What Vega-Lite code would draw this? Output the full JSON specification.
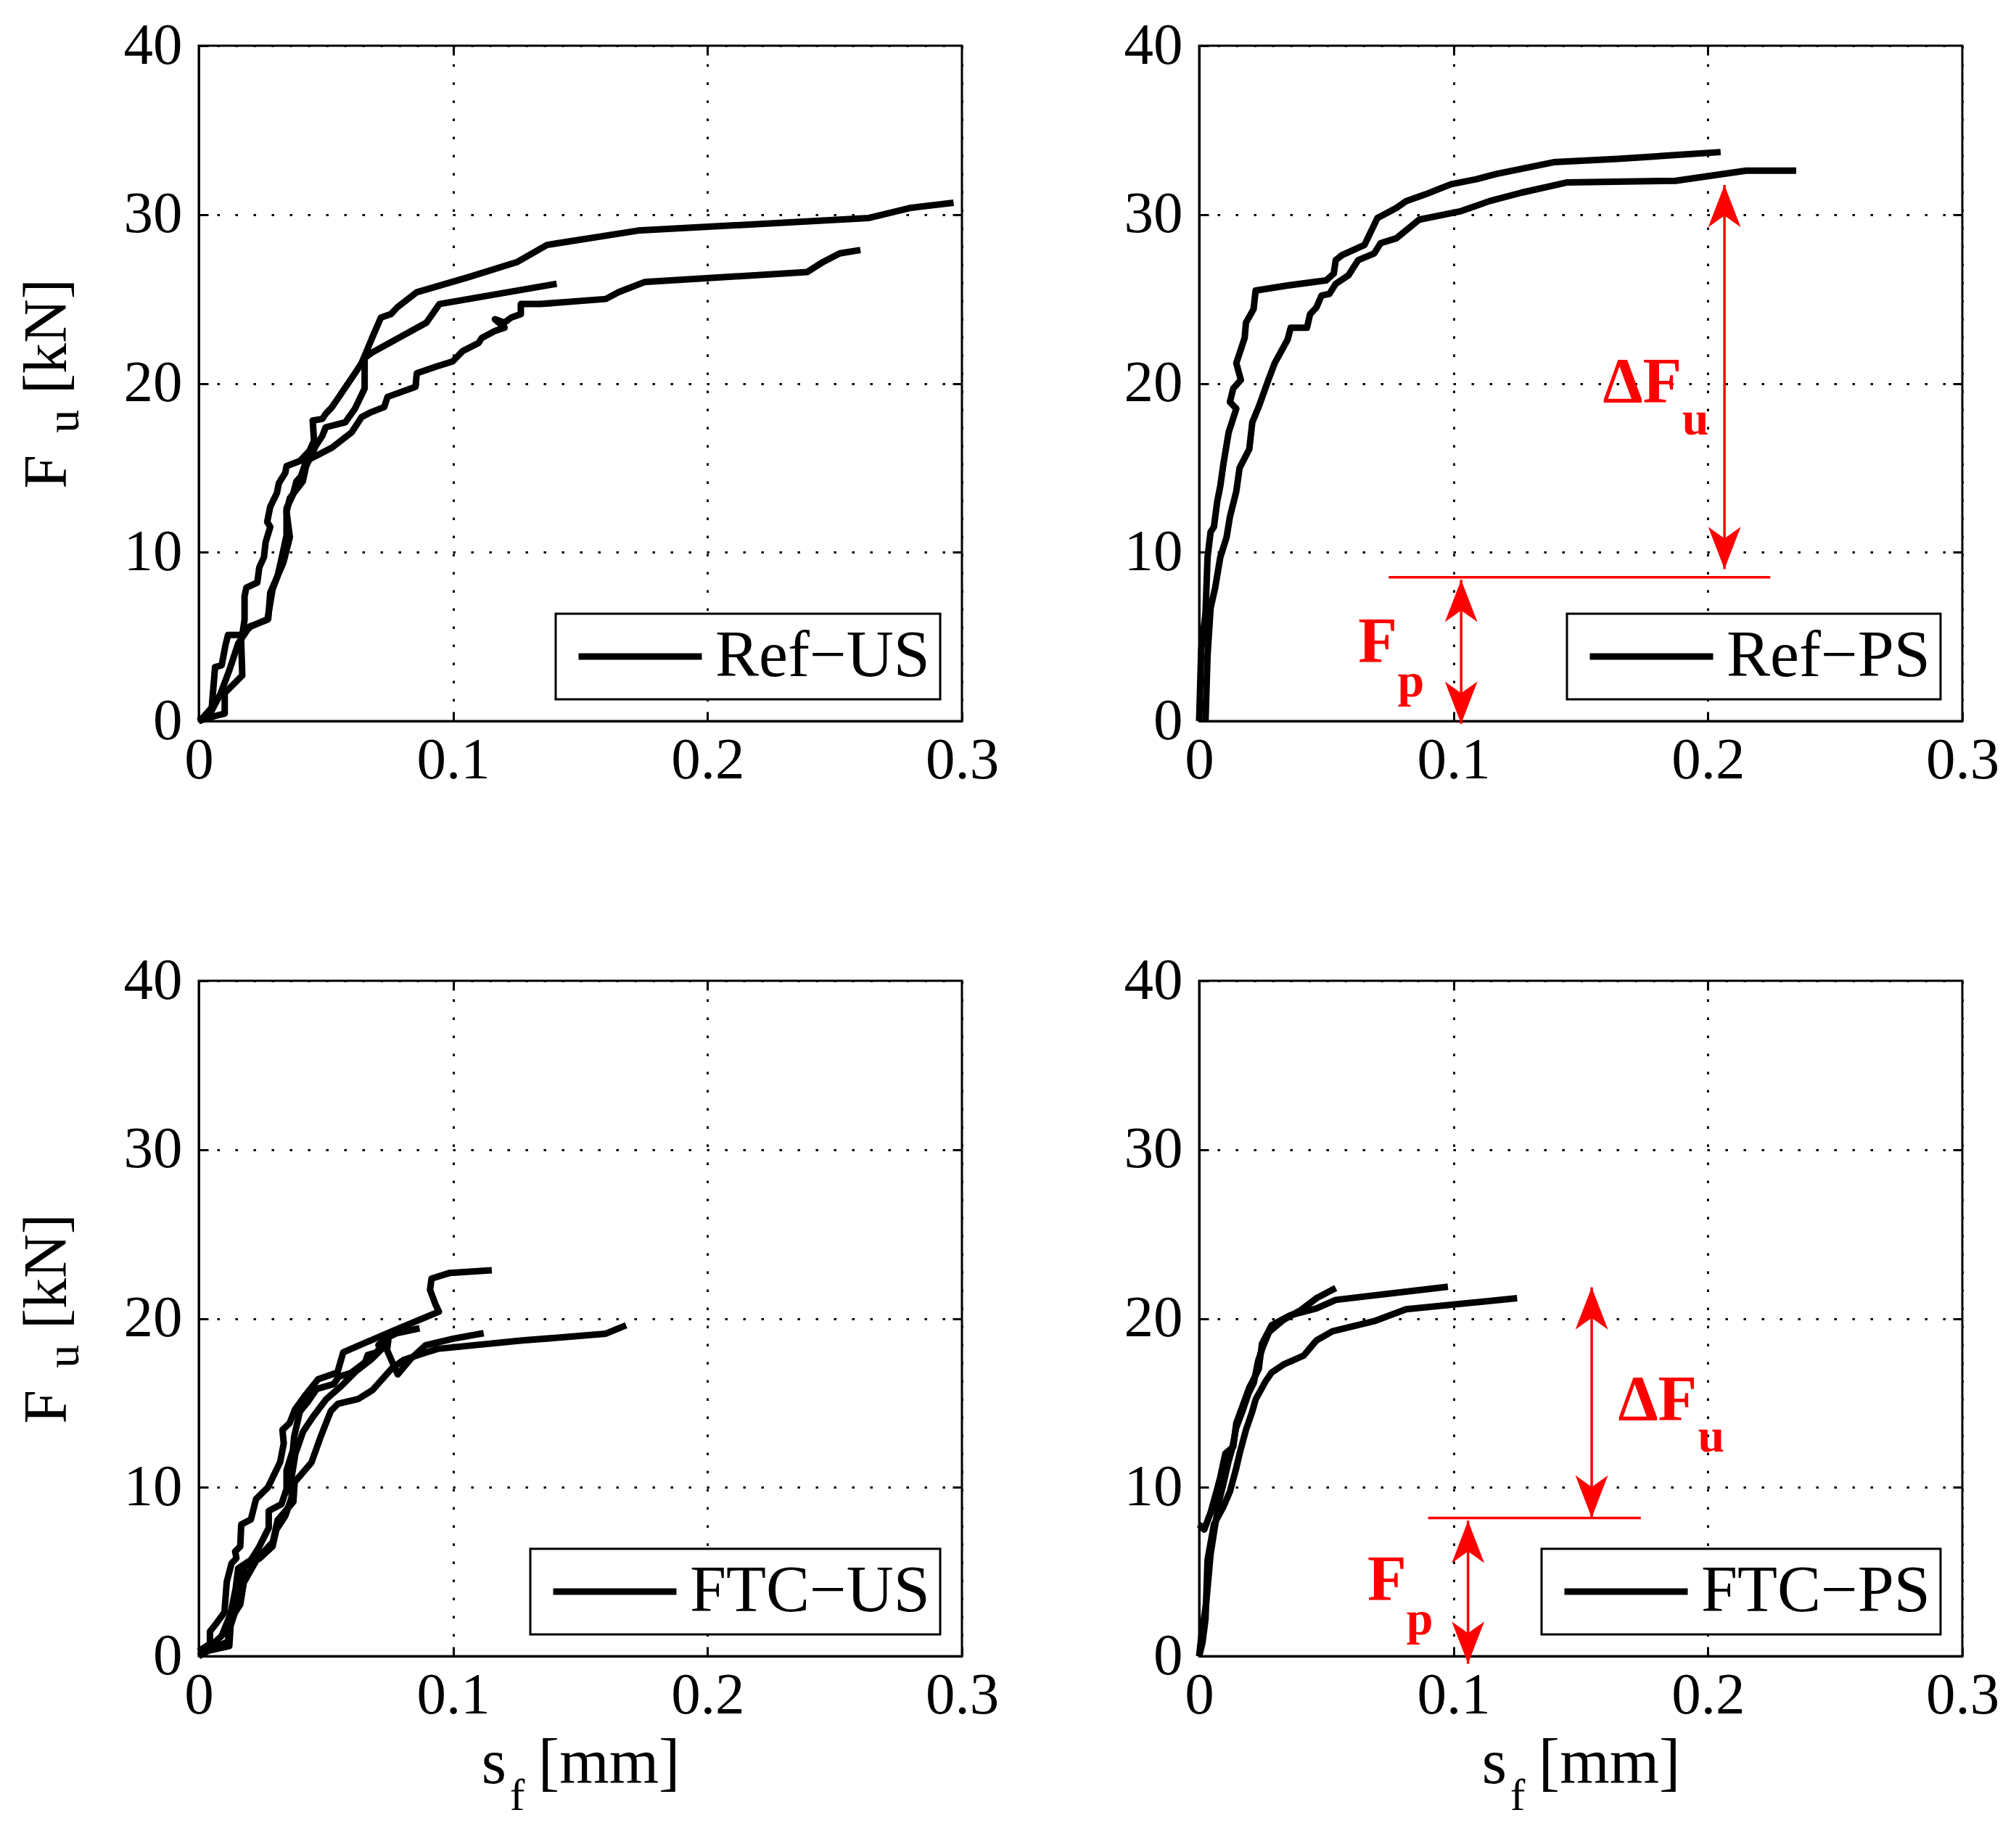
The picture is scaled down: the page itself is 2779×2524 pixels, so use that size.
{
"$schema":"https://vega.github.io/schema/vega-lite/v6.json",
"background":"white",
"padding":{"left":21,"top":20,"right":10,"bottom":10},
"columns":2,
"spacing":{"row":358,"column":327},
"bounds":"flush",
"resolve":{"scale":{"color":"independent"},"legend":{"color":"independent"}},
"datasets":{
"curves":[
{"p":"TL","r":"a","s":0,"F":0},{"p":"TL","r":"a","s":0.0013,"F":0.15},{"p":"TL","r":"a","s":0.0051,"F":0.8},{"p":"TL","r":"a","s":0.0064,"F":3.2},{"p":"TL","r":"a","s":0.009,"F":3.3},{"p":"TL","r":"a","s":0.0105,"F":4.5},{"p":"TL","r":"a","s":0.0115,"F":5.1},{"p":"TL","r":"a","s":0.0171,"F":5.1},{"p":"TL","r":"a","s":0.018,"F":6.0},{"p":"TL","r":"a","s":0.018,"F":7.4},{"p":"TL","r":"a","s":0.0187,"F":7.9},{"p":"TL","r":"a","s":0.023,"F":8.2},{"p":"TL","r":"a","s":0.0238,"F":9.1},{"p":"TL","r":"a","s":0.0256,"F":9.7},{"p":"TL","r":"a","s":0.0263,"F":10.6},{"p":"TL","r":"a","s":0.0281,"F":11.5},{"p":"TL","r":"a","s":0.0269,"F":11.8},{"p":"TL","r":"a","s":0.0281,"F":12.7},{"p":"TL","r":"a","s":0.0307,"F":13.5},{"p":"TL","r":"a","s":0.0315,"F":14.1},{"p":"TL","r":"a","s":0.034,"F":14.7},{"p":"TL","r":"a","s":0.0345,"F":15.1},{"p":"TL","r":"a","s":0.0397,"F":15.4},{"p":"TL","r":"a","s":0.0435,"F":16.0},{"p":"TL","r":"a","s":0.0453,"F":16.6},{"p":"TL","r":"a","s":0.0448,"F":17.8},{"p":"TL","r":"a","s":0.0486,"F":17.9},{"p":"TL","r":"a","s":0.0499,"F":18.2},{"p":"TL","r":"a","s":0.0524,"F":18.6},{"p":"TL","r":"a","s":0.056,"F":19.4},{"p":"TL","r":"a","s":0.0614,"F":20.6},{"p":"TL","r":"a","s":0.064,"F":21.2},{"p":"TL","r":"a","s":0.0665,"F":22.1},{"p":"TL","r":"a","s":0.069,"F":23.0},{"p":"TL","r":"a","s":0.0716,"F":23.9},{"p":"TL","r":"a","s":0.0755,"F":24.1},{"p":"TL","r":"a","s":0.078,"F":24.5},{"p":"TL","r":"a","s":0.0857,"F":25.4},{"p":"TL","r":"a","s":0.1062,"F":26.3},{"p":"TL","r":"a","s":0.1253,"F":27.2},{"p":"TL","r":"a","s":0.1369,"F":28.2},{"p":"TL","r":"a","s":0.1727,"F":29.05},{"p":"TL","r":"a","s":0.2635,"F":29.8},{"p":"TL","r":"a","s":0.28,"F":30.4},{"p":"TL","r":"a","s":0.2967,"F":30.7},
{"p":"TL","r":"b","s":0,"F":0},{"p":"TL","r":"b","s":0.0064,"F":0.3},{"p":"TL","r":"b","s":0.0102,"F":0.45},{"p":"TL","r":"b","s":0.0102,"F":1.66},{"p":"TL","r":"b","s":0.0171,"F":2.7},{"p":"TL","r":"b","s":0.0166,"F":5.1},{"p":"TL","r":"b","s":0.0205,"F":5.6},{"p":"TL","r":"b","s":0.0273,"F":6.05},{"p":"TL","r":"b","s":0.0281,"F":7.6},{"p":"TL","r":"b","s":0.0307,"F":8.5},{"p":"TL","r":"b","s":0.0333,"F":9.4},{"p":"TL","r":"b","s":0.0358,"F":10.9},{"p":"TL","r":"b","s":0.0345,"F":12.4},{"p":"TL","r":"b","s":0.0358,"F":13.2},{"p":"TL","r":"b","s":0.0409,"F":14.2},{"p":"TL","r":"b","s":0.0422,"F":15.1},{"p":"TL","r":"b","s":0.046,"F":16.3},{"p":"TL","r":"b","s":0.0486,"F":16.9},{"p":"TL","r":"b","s":0.0499,"F":17.4},{"p":"TL","r":"b","s":0.0576,"F":17.7},{"p":"TL","r":"b","s":0.0614,"F":18.5},{"p":"TL","r":"b","s":0.0652,"F":19.7},{"p":"TL","r":"b","s":0.0652,"F":21.5},{"p":"TL","r":"b","s":0.0678,"F":21.8},{"p":"TL","r":"b","s":0.0895,"F":23.6},{"p":"TL","r":"b","s":0.0946,"F":24.7},{"p":"TL","r":"b","s":0.1407,"F":25.9},
{"p":"TL","r":"c","s":0,"F":0},{"p":"TL","r":"c","s":0.004,"F":0.3},{"p":"TL","r":"c","s":0.0085,"F":1.6},{"p":"TL","r":"c","s":0.012,"F":3.0},{"p":"TL","r":"c","s":0.0155,"F":4.6},{"p":"TL","r":"c","s":0.02,"F":5.6},{"p":"TL","r":"c","s":0.027,"F":6.0},{"p":"TL","r":"c","s":0.029,"F":7.8},{"p":"TL","r":"c","s":0.031,"F":8.6},{"p":"TL","r":"c","s":0.0325,"F":9.6},{"p":"TL","r":"c","s":0.0345,"F":11.0},{"p":"TL","r":"c","s":0.0345,"F":12.6},{"p":"TL","r":"c","s":0.037,"F":13.4},{"p":"TL","r":"c","s":0.0384,"F":14.2},{"p":"TL","r":"c","s":0.0402,"F":14.5},{"p":"TL","r":"c","s":0.0422,"F":15.4},{"p":"TL","r":"c","s":0.0524,"F":16.2},{"p":"TL","r":"c","s":0.0601,"F":17.1},{"p":"TL","r":"c","s":0.064,"F":18.0},{"p":"TL","r":"c","s":0.0678,"F":18.3},{"p":"TL","r":"c","s":0.0729,"F":18.6},{"p":"TL","r":"c","s":0.0742,"F":19.2},{"p":"TL","r":"c","s":0.0852,"F":19.8},{"p":"TL","r":"c","s":0.0857,"F":20.6},{"p":"TL","r":"c","s":0.0934,"F":21.0},{"p":"TL","r":"c","s":0.0998,"F":21.3},{"p":"TL","r":"c","s":0.1036,"F":21.9},{"p":"TL","r":"c","s":0.11,"F":22.4},{"p":"TL","r":"c","s":0.1113,"F":22.7},{"p":"TL","r":"c","s":0.1164,"F":23.1},{"p":"TL","r":"c","s":0.1202,"F":23.3},{"p":"TL","r":"c","s":0.1164,"F":23.8},{"p":"TL","r":"c","s":0.1202,"F":23.6},{"p":"TL","r":"c","s":0.1228,"F":23.9},{"p":"TL","r":"c","s":0.1266,"F":24.1},{"p":"TL","r":"c","s":0.1266,"F":24.7},{"p":"TL","r":"c","s":0.1343,"F":24.7},{"p":"TL","r":"c","s":0.16,"F":25.0},{"p":"TL","r":"c","s":0.165,"F":25.4},{"p":"TL","r":"c","s":0.1752,"F":26.0},{"p":"TL","r":"c","s":0.2392,"F":26.6},{"p":"TL","r":"c","s":0.2455,"F":27.2},{"p":"TL","r":"c","s":0.252,"F":27.7},{"p":"TL","r":"c","s":0.2601,"F":27.9},
{"p":"TR","r":"a","s":0,"F":0},{"p":"TR","r":"a","s":0.0008,"F":4.2},{"p":"TR","r":"a","s":0.0025,"F":6.4},{"p":"TR","r":"a","s":0.0033,"F":9.7},{"p":"TR","r":"a","s":0.0045,"F":11.2},{"p":"TR","r":"a","s":0.0058,"F":11.5},{"p":"TR","r":"a","s":0.0071,"F":13.0},{"p":"TR","r":"a","s":0.0083,"F":13.9},{"p":"TR","r":"a","s":0.0096,"F":15.3},{"p":"TR","r":"a","s":0.0116,"F":17.1},{"p":"TR","r":"a","s":0.0146,"F":18.5},{"p":"TR","r":"a","s":0.0121,"F":18.9},{"p":"TR","r":"a","s":0.0134,"F":19.7},{"p":"TR","r":"a","s":0.0164,"F":20.2},{"p":"TR","r":"a","s":0.0146,"F":21.2},{"p":"TR","r":"a","s":0.0179,"F":22.7},{"p":"TR","r":"a","s":0.0184,"F":23.6},{"p":"TR","r":"a","s":0.0214,"F":24.4},{"p":"TR","r":"a","s":0.0222,"F":25.5},{"p":"TR","r":"a","s":0.0348,"F":25.8},{"p":"TR","r":"a","s":0.0499,"F":26.1},{"p":"TR","r":"a","s":0.0529,"F":26.5},{"p":"TR","r":"a","s":0.0537,"F":27.3},{"p":"TR","r":"a","s":0.0562,"F":27.6},{"p":"TR","r":"a","s":0.065,"F":28.2},{"p":"TR","r":"a","s":0.0701,"F":29.8},{"p":"TR","r":"a","s":0.0776,"F":30.4},{"p":"TR","r":"a","s":0.0814,"F":30.8},{"p":"TR","r":"a","s":0.089,"F":31.2},{"p":"TR","r":"a","s":0.0991,"F":31.8},{"p":"TR","r":"a","s":0.1092,"F":32.1},{"p":"TR","r":"a","s":0.1167,"F":32.4},{"p":"TR","r":"a","s":0.1394,"F":33.1},{"p":"TR","r":"a","s":0.1646,"F":33.3},{"p":"TR","r":"a","s":0.1848,"F":33.5},{"p":"TR","r":"a","s":0.205,"F":33.7},
{"p":"TR","r":"b","s":0.0025,"F":0},{"p":"TR","r":"b","s":0.0033,"F":3.9},{"p":"TR","r":"b","s":0.0045,"F":6.7},{"p":"TR","r":"b","s":0.0063,"F":7.9},{"p":"TR","r":"b","s":0.0083,"F":9.7},{"p":"TR","r":"b","s":0.0108,"F":10.9},{"p":"TR","r":"b","s":0.0121,"F":12.1},{"p":"TR","r":"b","s":0.0146,"F":13.6},{"p":"TR","r":"b","s":0.0159,"F":15.0},{"p":"TR","r":"b","s":0.0197,"F":16.1},{"p":"TR","r":"b","s":0.0209,"F":17.7},{"p":"TR","r":"b","s":0.0234,"F":18.6},{"p":"TR","r":"b","s":0.0272,"F":20.2},{"p":"TR","r":"b","s":0.0297,"F":21.2},{"p":"TR","r":"b","s":0.0348,"F":22.6},{"p":"TR","r":"b","s":0.036,"F":23.3},{"p":"TR","r":"b","s":0.0424,"F":23.3},{"p":"TR","r":"b","s":0.0436,"F":24.1},{"p":"TR","r":"b","s":0.0461,"F":24.5},{"p":"TR","r":"b","s":0.0481,"F":25.2},{"p":"TR","r":"b","s":0.0512,"F":25.3},{"p":"TR","r":"b","s":0.0537,"F":25.9},{"p":"TR","r":"b","s":0.0587,"F":26.4},{"p":"TR","r":"b","s":0.0625,"F":27.3},{"p":"TR","r":"b","s":0.0688,"F":27.7},{"p":"TR","r":"b","s":0.0713,"F":28.3},{"p":"TR","r":"b","s":0.0776,"F":28.6},{"p":"TR","r":"b","s":0.0865,"F":29.7},{"p":"TR","r":"b","s":0.1029,"F":30.2},{"p":"TR","r":"b","s":0.1142,"F":30.8},{"p":"TR","r":"b","s":0.1268,"F":31.3},{"p":"TR","r":"b","s":0.1444,"F":31.9},{"p":"TR","r":"b","s":0.1873,"F":32.0},{"p":"TR","r":"b","s":0.215,"F":32.6},{"p":"TR","r":"b","s":0.2347,"F":32.6},
{"p":"BL","r":"a","s":0,"F":0.3},{"p":"BL","r":"a","s":0.0044,"F":0.73},{"p":"BL","r":"a","s":0.0044,"F":1.46},{"p":"BL","r":"a","s":0.0072,"F":2.0},{"p":"BL","r":"a","s":0.0101,"F":2.6},{"p":"BL","r":"a","s":0.011,"F":4.4},{"p":"BL","r":"a","s":0.0129,"F":5.5},{"p":"BL","r":"a","s":0.0148,"F":5.8},{"p":"BL","r":"a","s":0.0143,"F":6.2},{"p":"BL","r":"a","s":0.0163,"F":6.5},{"p":"BL","r":"a","s":0.0167,"F":7.8},{"p":"BL","r":"a","s":0.0205,"F":8.1},{"p":"BL","r":"a","s":0.0225,"F":9.3},{"p":"BL","r":"a","s":0.0272,"F":10.0},{"p":"BL","r":"a","s":0.032,"F":11.5},{"p":"BL","r":"a","s":0.0334,"F":12.6},{"p":"BL","r":"a","s":0.0329,"F":13.4},{"p":"BL","r":"a","s":0.0357,"F":13.8},{"p":"BL","r":"a","s":0.0378,"F":14.6},{"p":"BL","r":"a","s":0.0421,"F":15.5},{"p":"BL","r":"a","s":0.0469,"F":16.4},{"p":"BL","r":"a","s":0.0545,"F":16.8},{"p":"BL","r":"a","s":0.0568,"F":18.0},{"p":"BL","r":"a","s":0.0768,"F":19.3},{"p":"BL","r":"a","s":0.0944,"F":20.4},{"p":"BL","r":"a","s":0.093,"F":20.85},{"p":"BL","r":"a","s":0.0909,"F":21.7},{"p":"BL","r":"a","s":0.0915,"F":22.36},{"p":"BL","r":"a","s":0.0987,"F":22.7},{"p":"BL","r":"a","s":0.1152,"F":22.86},
{"p":"BL","r":"b","s":0,"F":0.2},{"p":"BL","r":"b","s":0.004,"F":0.5},{"p":"BL","r":"b","s":0.009,"F":1.2},{"p":"BL","r":"b","s":0.0125,"F":2.5},{"p":"BL","r":"b","s":0.0145,"F":4.0},{"p":"BL","r":"b","s":0.0155,"F":5.2},{"p":"BL","r":"b","s":0.0205,"F":5.7},{"p":"BL","r":"b","s":0.0235,"F":6.4},{"p":"BL","r":"b","s":0.0275,"F":7.6},{"p":"BL","r":"b","s":0.0275,"F":8.6},{"p":"BL","r":"b","s":0.0325,"F":9.0},{"p":"BL","r":"b","s":0.0345,"F":9.9},{"p":"BL","r":"b","s":0.0345,"F":11.0},{"p":"BL","r":"b","s":0.037,"F":12.2},{"p":"BL","r":"b","s":0.0375,"F":13.0},{"p":"BL","r":"b","s":0.0397,"F":14.47},{"p":"BL","r":"b","s":0.0431,"F":15.11},{"p":"BL","r":"b","s":0.0464,"F":15.83},{"p":"BL","r":"b","s":0.0531,"F":16.12},{"p":"BL","r":"b","s":0.055,"F":16.55},{"p":"BL","r":"b","s":0.0597,"F":16.76},{"p":"BL","r":"b","s":0.0654,"F":17.41},{"p":"BL","r":"b","s":0.0664,"F":17.84},{"p":"BL","r":"b","s":0.0697,"F":17.98},{"p":"BL","r":"b","s":0.0716,"F":18.27},{"p":"BL","r":"b","s":0.0706,"F":18.42},{"p":"BL","r":"b","s":0.074,"F":18.85},{"p":"BL","r":"b","s":0.0778,"F":19.13},{"p":"BL","r":"b","s":0.0868,"F":19.42},
{"p":"BL","r":"c","s":0,"F":0},{"p":"BL","r":"c","s":0.0034,"F":0.3},{"p":"BL","r":"c","s":0.0116,"F":0.88},{"p":"BL","r":"c","s":0.0116,"F":1.98},{"p":"BL","r":"c","s":0.0163,"F":3.06},{"p":"BL","r":"c","s":0.0177,"F":4.36},{"p":"BL","r":"c","s":0.0229,"F":5.74},{"p":"BL","r":"c","s":0.0291,"F":6.76},{"p":"BL","r":"c","s":0.031,"F":8.06},{"p":"BL","r":"c","s":0.0372,"F":9.15},{"p":"BL","r":"c","s":0.0377,"F":10.31},{"p":"BL","r":"c","s":0.0443,"F":11.47},{"p":"BL","r":"c","s":0.0481,"F":13.07},{"p":"BL","r":"c","s":0.0519,"F":14.52},{"p":"BL","r":"c","s":0.0547,"F":14.95},{"p":"BL","r":"c","s":0.0628,"F":15.24},{"p":"BL","r":"c","s":0.0683,"F":15.76},{"p":"BL","r":"c","s":0.0759,"F":17.05},{"p":"BL","r":"c","s":0.0806,"F":17.55},{"p":"BL","r":"c","s":0.0892,"F":17.98},{"p":"BL","r":"c","s":0.0939,"F":18.2},{"p":"BL","r":"c","s":0.1272,"F":18.7},{"p":"BL","r":"c","s":0.1445,"F":18.9},{"p":"BL","r":"c","s":0.16,"F":19.1},{"p":"BL","r":"c","s":0.168,"F":19.6},
{"p":"BL","r":"d","s":0,"F":0.2},{"p":"BL","r":"d","s":0.012,"F":0.6},{"p":"BL","r":"d","s":0.0125,"F":1.8},{"p":"BL","r":"d","s":0.016,"F":3.4},{"p":"BL","r":"d","s":0.018,"F":5.3},{"p":"BL","r":"d","s":0.024,"F":5.8},{"p":"BL","r":"d","s":0.029,"F":6.5},{"p":"BL","r":"d","s":0.0305,"F":7.5},{"p":"BL","r":"d","s":0.034,"F":8.3},{"p":"BL","r":"d","s":0.0365,"F":9.4},{"p":"BL","r":"d","s":0.0365,"F":10.6},{"p":"BL","r":"d","s":0.038,"F":12.0},{"p":"BL","r":"d","s":0.041,"F":13.3},{"p":"BL","r":"d","s":0.045,"F":14.2},{"p":"BL","r":"d","s":0.05,"F":15.2},{"p":"BL","r":"d","s":0.056,"F":16.0},{"p":"BL","r":"d","s":0.062,"F":16.9},{"p":"BL","r":"d","s":0.068,"F":17.6},{"p":"BL","r":"d","s":0.072,"F":18.2},{"p":"BL","r":"d","s":0.0745,"F":18.7},{"p":"BL","r":"d","s":0.074,"F":18.13},{"p":"BL","r":"d","s":0.0782,"F":16.69},{"p":"BL","r":"d","s":0.0834,"F":17.62},{"p":"BL","r":"d","s":0.0892,"F":18.42},{"p":"BL","r":"d","s":0.1,"F":18.8},{"p":"BL","r":"d","s":0.112,"F":19.13},
{"p":"BR","r":"a","s":0,"F":7.8},{"p":"BR","r":"a","s":0.002,"F":7.5},{"p":"BR","r":"a","s":0.0045,"F":8.5},{"p":"BR","r":"a","s":0.0071,"F":9.9},{"p":"BR","r":"a","s":0.0083,"F":10.6},{"p":"BR","r":"a","s":0.0103,"F":12.0},{"p":"BR","r":"a","s":0.0134,"F":12.4},{"p":"BR","r":"a","s":0.0146,"F":13.8},{"p":"BR","r":"a","s":0.0197,"F":15.9},{"p":"BR","r":"a","s":0.0209,"F":16.25},{"p":"BR","r":"a","s":0.0234,"F":17.0},{"p":"BR","r":"a","s":0.0247,"F":18.5},{"p":"BR","r":"a","s":0.0285,"F":19.6},{"p":"BR","r":"a","s":0.036,"F":20.2},{"p":"BR","r":"a","s":0.0461,"F":20.6},{"p":"BR","r":"a","s":0.0537,"F":21.1},{"p":"BR","r":"a","s":0.0978,"F":21.88},
{"p":"BR","r":"b","s":0,"F":0},{"p":"BR","r":"b","s":0.0008,"F":1.1},{"p":"BR","r":"b","s":0.0028,"F":3.2},{"p":"BR","r":"b","s":0.0045,"F":6.05},{"p":"BR","r":"b","s":0.006,"F":7.5},{"p":"BR","r":"b","s":0.008,"F":9.3},{"p":"BR","r":"b","s":0.0095,"F":10.2},{"p":"BR","r":"b","s":0.0115,"F":11.5},{"p":"BR","r":"b","s":0.013,"F":12.3},{"p":"BR","r":"b","s":0.0145,"F":13.5},{"p":"BR","r":"b","s":0.017,"F":14.5},{"p":"BR","r":"b","s":0.0195,"F":15.6},{"p":"BR","r":"b","s":0.0215,"F":16.2},{"p":"BR","r":"b","s":0.0232,"F":17.5},{"p":"BR","r":"b","s":0.025,"F":18.3},{"p":"BR","r":"b","s":0.0275,"F":19.2},{"p":"BR","r":"b","s":0.033,"F":19.9},{"p":"BR","r":"b","s":0.04,"F":20.5},{"p":"BR","r":"b","s":0.0461,"F":21.2},{"p":"BR","r":"b","s":0.0537,"F":21.8},
{"p":"BR","r":"c","s":0,"F":0},{"p":"BR","r":"c","s":0.0013,"F":0.8},{"p":"BR","r":"c","s":0.0025,"F":2.2},{"p":"BR","r":"c","s":0.0033,"F":5.7},{"p":"BR","r":"c","s":0.0058,"F":7.8},{"p":"BR","r":"c","s":0.0096,"F":8.87},{"p":"BR","r":"c","s":0.0121,"F":9.75},{"p":"BR","r":"c","s":0.0146,"F":11.15},{"p":"BR","r":"c","s":0.0159,"F":12.0},{"p":"BR","r":"c","s":0.0184,"F":13.4},{"p":"BR","r":"c","s":0.0209,"F":14.5},{"p":"BR","r":"c","s":0.0222,"F":15.2},{"p":"BR","r":"c","s":0.026,"F":16.25},{"p":"BR","r":"c","s":0.0285,"F":16.8},{"p":"BR","r":"c","s":0.0335,"F":17.3},{"p":"BR","r":"c","s":0.0411,"F":17.8},{"p":"BR","r":"c","s":0.0461,"F":18.7},{"p":"BR","r":"c","s":0.0524,"F":19.24},{"p":"BR","r":"c","s":0.0688,"F":19.84},{"p":"BR","r":"c","s":0.0814,"F":20.55},{"p":"BR","r":"c","s":0.125,"F":21.2}
],
"hlines":[{"p":"TR","s":0.0745,"s2":0.2245,"F":8.52},{"p":"BR","s":0.09,"s2":0.1736,"F":8.18}],
"vlines":[{"p":"TR","s":0.2065,"F":9.0,"F2":31.75},{"p":"TR","s":0.103,"F":-0.16,"F2":8.37},{"p":"BR","s":0.1543,"F":8.2,"F2":21.85},{"p":"BR","s":0.1057,"F":-0.45,"F2":8.02}],
"heads":[{"p":"TR","d":"up","s":0.2065,"F":31.75},{"p":"TR","d":"down","s":0.2065,"F":9.0},{"p":"TR","d":"up","s":0.103,"F":8.37},{"p":"TR","d":"down","s":0.103,"F":-0.16},{"p":"BR","d":"up","s":0.1543,"F":21.85},{"p":"BR","d":"down","s":0.1543,"F":8.2},{"p":"BR","d":"up","s":0.1057,"F":8.02},{"p":"BR","d":"down","s":0.1057,"F":-0.45}],
"labels":[{"p":"TR","k":"main","t":"ΔF","s":0.1742,"F":18.9},{"p":"TR","k":"sub","t":"u","s":0.1951,"F":16.95},{"p":"TR","k":"main","t":"F","s":0.0702,"F":3.52},{"p":"TR","k":"sub","t":"p","s":0.0832,"F":1.47},{"p":"BR","k":"main","t":"ΔF","s":0.1802,"F":14.0},{"p":"BR","k":"sub","t":"u","s":0.2013,"F":12.1},{"p":"BR","k":"main","t":"F","s":0.0738,"F":3.37},{"p":"BR","k":"sub","t":"p","s":0.0867,"F":1.27}],
"subs":[{"p":"TL","k":"y","t":"u","s":-0.0528,"F":17.75},{"p":"BL","k":"y","t":"u","s":-0.0528,"F":17.75},{"p":"BL","k":"x","t":"f","s":0.1252,"F":-8.3},{"p":"BR","k":"x","t":"f","s":0.1252,"F":-8.3}],
"frame":[{"s":0.1,"F":10}]
},
"concat":[
{"width":1052,"height":931,"resolve":{"axis":{"x":"independent","y":"independent"}},"layer":[
 {"data":{"name":"curves"},"transform":[{"filter":"datum.p=='TL'"}],"mark":{"type":"line","strokeWidth":9,"strokeJoin":"round"},
  "encoding":{"x":{"field":"s","type":"quantitative","scale":{"domain":[0,0.3],"nice":false,"zero":false},"axis":{"values":[0,0.1,0.2,0.3],"format":"~g","title":null}},
   "y":{"field":"F","type":"quantitative","scale":{"domain":[0,40],"nice":false,"zero":false},"axis":{"values":[0,10,20,30,40],"format":"d","title":"F\u00a0\u00a0\u00a0\u00a0[kN]"}},
   "detail":{"field":"r"},"order":{"value":null},
   "color":{"datum":"Ref−US","type":"nominal","scale":{"range":["black"]},"legend":{"title":null,"symbolType":"M-1.375,0H7.125","encode":{"legend":{"update":{"strokeWidth":{"value":3}}}}}}}},
 {"data":{"name":"subs"},"transform":[{"filter":"datum.p=='TL' && datum.k=='y'"}],"mark":{"type":"text","angle":270,"align":"center","baseline":"middle","fontSize":64,"font":"Liberation Serif","color":"black"},
  "encoding":{"x":{"field":"s","type":"quantitative","scale":{"domain":[0,0.3],"nice":false,"zero":false},"axis":null},"y":{"field":"F","type":"quantitative","scale":{"domain":[0,40],"nice":false,"zero":false},"axis":null},"text":{"field":"t"}}},
 {"data":{"name":"frame"},"mark":{"type":"point","opacity":0},
  "encoding":{"x":{"field":"s","type":"quantitative","scale":{"domain":[0,0.3],"nice":false,"zero":false},"axis":{"orient":"top","values":[0.1,0.2],"labels":false,"grid":false,"domain":false,"title":null}},"y":{"field":"F","type":"quantitative","scale":{"domain":[0,40],"nice":false,"zero":false},"axis":{"orient":"right","values":[10,20,30],"labels":false,"grid":false,"domain":false,"title":null}}}}
]},
{"width":1052,"height":931,"resolve":{"axis":{"x":"independent","y":"independent"}},"layer":[
 {"data":{"name":"curves"},"transform":[{"filter":"datum.p=='TR'"}],"mark":{"type":"line","strokeWidth":9,"strokeJoin":"round"},
  "encoding":{"x":{"field":"s","type":"quantitative","scale":{"domain":[0,0.3],"nice":false,"zero":false},"axis":{"values":[0,0.1,0.2,0.3],"format":"~g","title":null}},
   "y":{"field":"F","type":"quantitative","scale":{"domain":[0,40],"nice":false,"zero":false},"axis":{"values":[0,10,20,30,40],"format":"d","title":null}},
   "detail":{"field":"r"},"order":{"value":null},
   "color":{"datum":"Ref−PS","type":"nominal","scale":{"range":["black"]},"legend":{"title":null,"symbolType":"M-1.375,0H7.125","encode":{"legend":{"update":{"strokeWidth":{"value":3}}}}}}}},
 {"data":{"name":"hlines"},"transform":[{"filter":"datum.p=='TR'"}],"mark":{"type":"rule","color":"#ff0000","strokeWidth":3.5},
  "encoding":{"x":{"field":"s","type":"quantitative","scale":{"domain":[0,0.3],"nice":false,"zero":false},"axis":null},"x2":{"field":"s2"},"y":{"field":"F","type":"quantitative","scale":{"domain":[0,40],"nice":false,"zero":false},"axis":null}}},
 {"data":{"name":"vlines"},"transform":[{"filter":"datum.p=='TR'"}],"mark":{"type":"rule","color":"#ff0000","strokeWidth":3.5},
  "encoding":{"x":{"field":"s","type":"quantitative","scale":{"domain":[0,0.3],"nice":false,"zero":false},"axis":null},"y":{"field":"F","type":"quantitative","scale":{"domain":[0,40],"nice":false,"zero":false},"axis":null},"y2":{"field":"F2"}}},
 {"data":{"name":"heads"},"transform":[{"filter":"datum.p=='TR'"}],"mark":{"type":"point","filled":true,"opacity":1,"color":"#ff0000","size":3400,"strokeWidth":0},
  "encoding":{"x":{"field":"s","type":"quantitative","scale":{"domain":[0,0.3],"nice":false,"zero":false},"axis":null},"y":{"field":"F","type":"quantitative","scale":{"domain":[0,40],"nice":false,"zero":false},"axis":null},
   "shape":{"field":"d","type":"nominal","scale":{"domain":["up","down"],"range":["M0,0L0.77,2L0,1.45L-0.77,2Z","M0,0L0.77,-2L0,-1.45L-0.77,-2Z"]},"legend":null}}},
 {"data":{"name":"labels"},"transform":[{"filter":"datum.p=='TR' && datum.k=='main'"}],"mark":{"type":"text","align":"center","baseline":"alphabetic","fontSize":88,"fontWeight":"bold","font":"Liberation Serif","color":"#ff0000"},
  "encoding":{"x":{"field":"s","type":"quantitative","scale":{"domain":[0,0.3],"nice":false,"zero":false},"axis":null},"y":{"field":"F","type":"quantitative","scale":{"domain":[0,40],"nice":false,"zero":false},"axis":null},"text":{"field":"t"}}},
 {"data":{"name":"labels"},"transform":[{"filter":"datum.p=='TR' && datum.k=='sub'"}],"mark":{"type":"text","align":"center","baseline":"alphabetic","fontSize":66,"fontWeight":"bold","font":"Liberation Serif","color":"#ff0000"},
  "encoding":{"x":{"field":"s","type":"quantitative","scale":{"domain":[0,0.3],"nice":false,"zero":false},"axis":null},"y":{"field":"F","type":"quantitative","scale":{"domain":[0,40],"nice":false,"zero":false},"axis":null},"text":{"field":"t"}}},
 {"data":{"name":"frame"},"mark":{"type":"point","opacity":0},
  "encoding":{"x":{"field":"s","type":"quantitative","scale":{"domain":[0,0.3],"nice":false,"zero":false},"axis":{"orient":"top","values":[0.1,0.2],"labels":false,"grid":false,"domain":false,"title":null}},"y":{"field":"F","type":"quantitative","scale":{"domain":[0,40],"nice":false,"zero":false},"axis":{"orient":"right","values":[10,20,30],"labels":false,"grid":false,"domain":false,"title":null}}}}
]},
{"width":1052,"height":931,"resolve":{"axis":{"x":"independent","y":"independent"}},"layer":[
 {"data":{"name":"curves"},"transform":[{"filter":"datum.p=='BL'"}],"mark":{"type":"line","strokeWidth":9,"strokeJoin":"round"},
  "encoding":{"x":{"field":"s","type":"quantitative","scale":{"domain":[0,0.3],"nice":false,"zero":false},"axis":{"values":[0,0.1,0.2,0.3],"format":"~g","title":"s\u00a0\u00a0[mm]","titleFontSize":88}},
   "y":{"field":"F","type":"quantitative","scale":{"domain":[0,40],"nice":false,"zero":false},"axis":{"values":[0,10,20,30,40],"format":"d","title":"F\u00a0\u00a0\u00a0\u00a0[kN]"}},
   "detail":{"field":"r"},"order":{"value":null},
   "color":{"datum":"FTC−US","type":"nominal","scale":{"range":["black"]},"legend":{"title":null,"symbolType":"M-1.375,0H7.125","encode":{"legend":{"update":{"strokeWidth":{"value":3}}}}}}}},
 {"data":{"name":"subs"},"transform":[{"filter":"datum.p=='BL' && datum.k=='y'"}],"mark":{"type":"text","angle":270,"align":"center","baseline":"middle","fontSize":64,"font":"Liberation Serif","color":"black"},
  "encoding":{"x":{"field":"s","type":"quantitative","scale":{"domain":[0,0.3],"nice":false,"zero":false},"axis":null},"y":{"field":"F","type":"quantitative","scale":{"domain":[0,40],"nice":false,"zero":false},"axis":null},"text":{"field":"t"}}},
 {"data":{"name":"subs"},"transform":[{"filter":"datum.p=='BL' && datum.k=='x'"}],"mark":{"type":"text","align":"center","baseline":"middle","fontSize":62,"font":"Liberation Serif","color":"black"},
  "encoding":{"x":{"field":"s","type":"quantitative","scale":{"domain":[0,0.3],"nice":false,"zero":false},"axis":null},"y":{"field":"F","type":"quantitative","scale":{"domain":[0,40],"nice":false,"zero":false},"axis":null},"text":{"field":"t"}}},
 {"data":{"name":"frame"},"mark":{"type":"point","opacity":0},
  "encoding":{"x":{"field":"s","type":"quantitative","scale":{"domain":[0,0.3],"nice":false,"zero":false},"axis":{"orient":"top","values":[0.1,0.2],"labels":false,"grid":false,"domain":false,"title":null}},"y":{"field":"F","type":"quantitative","scale":{"domain":[0,40],"nice":false,"zero":false},"axis":{"orient":"right","values":[10,20,30],"labels":false,"grid":false,"domain":false,"title":null}}}}
]},
{"width":1052,"height":931,"resolve":{"axis":{"x":"independent","y":"independent"}},"layer":[
 {"data":{"name":"curves"},"transform":[{"filter":"datum.p=='BR'"}],"mark":{"type":"line","strokeWidth":9,"strokeJoin":"round"},
  "encoding":{"x":{"field":"s","type":"quantitative","scale":{"domain":[0,0.3],"nice":false,"zero":false},"axis":{"values":[0,0.1,0.2,0.3],"format":"~g","title":"s\u00a0\u00a0[mm]","titleFontSize":88}},
   "y":{"field":"F","type":"quantitative","scale":{"domain":[0,40],"nice":false,"zero":false},"axis":{"values":[0,10,20,30,40],"format":"d","title":null}},
   "detail":{"field":"r"},"order":{"value":null},
   "color":{"datum":"FTC−PS","type":"nominal","scale":{"range":["black"]},"legend":{"title":null,"symbolType":"M-1.375,0H7.125","encode":{"legend":{"update":{"strokeWidth":{"value":3}}}}}}}},
 {"data":{"name":"hlines"},"transform":[{"filter":"datum.p=='BR'"}],"mark":{"type":"rule","color":"#ff0000","strokeWidth":3.5},
  "encoding":{"x":{"field":"s","type":"quantitative","scale":{"domain":[0,0.3],"nice":false,"zero":false},"axis":null},"x2":{"field":"s2"},"y":{"field":"F","type":"quantitative","scale":{"domain":[0,40],"nice":false,"zero":false},"axis":null}}},
 {"data":{"name":"vlines"},"transform":[{"filter":"datum.p=='BR'"}],"mark":{"type":"rule","color":"#ff0000","strokeWidth":3.5},
  "encoding":{"x":{"field":"s","type":"quantitative","scale":{"domain":[0,0.3],"nice":false,"zero":false},"axis":null},"y":{"field":"F","type":"quantitative","scale":{"domain":[0,40],"nice":false,"zero":false},"axis":null},"y2":{"field":"F2"}}},
 {"data":{"name":"heads"},"transform":[{"filter":"datum.p=='BR'"}],"mark":{"type":"point","filled":true,"opacity":1,"color":"#ff0000","size":3400,"strokeWidth":0},
  "encoding":{"x":{"field":"s","type":"quantitative","scale":{"domain":[0,0.3],"nice":false,"zero":false},"axis":null},"y":{"field":"F","type":"quantitative","scale":{"domain":[0,40],"nice":false,"zero":false},"axis":null},
   "shape":{"field":"d","type":"nominal","scale":{"domain":["up","down"],"range":["M0,0L0.77,2L0,1.45L-0.77,2Z","M0,0L0.77,-2L0,-1.45L-0.77,-2Z"]},"legend":null}}},
 {"data":{"name":"labels"},"transform":[{"filter":"datum.p=='BR' && datum.k=='main'"}],"mark":{"type":"text","align":"center","baseline":"alphabetic","fontSize":88,"fontWeight":"bold","font":"Liberation Serif","color":"#ff0000"},
  "encoding":{"x":{"field":"s","type":"quantitative","scale":{"domain":[0,0.3],"nice":false,"zero":false},"axis":null},"y":{"field":"F","type":"quantitative","scale":{"domain":[0,40],"nice":false,"zero":false},"axis":null},"text":{"field":"t"}}},
 {"data":{"name":"labels"},"transform":[{"filter":"datum.p=='BR' && datum.k=='sub'"}],"mark":{"type":"text","align":"center","baseline":"alphabetic","fontSize":66,"fontWeight":"bold","font":"Liberation Serif","color":"#ff0000"},
  "encoding":{"x":{"field":"s","type":"quantitative","scale":{"domain":[0,0.3],"nice":false,"zero":false},"axis":null},"y":{"field":"F","type":"quantitative","scale":{"domain":[0,40],"nice":false,"zero":false},"axis":null},"text":{"field":"t"}}},
 {"data":{"name":"subs"},"transform":[{"filter":"datum.p=='BR' && datum.k=='x'"}],"mark":{"type":"text","align":"center","baseline":"middle","fontSize":62,"font":"Liberation Serif","color":"black"},
  "encoding":{"x":{"field":"s","type":"quantitative","scale":{"domain":[0,0.3],"nice":false,"zero":false},"axis":null},"y":{"field":"F","type":"quantitative","scale":{"domain":[0,40],"nice":false,"zero":false},"axis":null},"text":{"field":"t"}}},
 {"data":{"name":"frame"},"mark":{"type":"point","opacity":0},
  "encoding":{"x":{"field":"s","type":"quantitative","scale":{"domain":[0,0.3],"nice":false,"zero":false},"axis":{"orient":"top","values":[0.1,0.2],"labels":false,"grid":false,"domain":false,"title":null}},"y":{"field":"F","type":"quantitative","scale":{"domain":[0,40],"nice":false,"zero":false},"axis":{"orient":"right","values":[10,20,30],"labels":false,"grid":false,"domain":false,"title":null}}}}
]}
],
"config":{
 "view":{"stroke":"black","strokeWidth":3},
 "axis":{"labelFont":"Liberation Serif","labelFontSize":81,"labelColor":"black","labelFlush":false,"labelOverlap":false,"titleFont":"Liberation Serif","titleFontSize":84,"titleFontWeight":"normal","titleColor":"black","domainColor":"black","domainWidth":3,"tickColor":"black","tickWidth":3,"tickSize":-13,"grid":true,"gridColor":"black","gridDash":[3.5,21.5],"gridWidth":3,"gridOpacity":1},
 "axisX":{"labelPadding":27,"titlePadding":10},
 "axisY":{"labelPadding":36,"titlePadding":62},
 "legend":{"orient":"bottom-right","offset":30,"symbolSize":1600,"symbolStrokeWidth":9,"labelFont":"Liberation Serif","labelFontSize":90,"labelColor":"black","labelOffset":116,"labelLimit":2000,"padding":14,"strokeColor":"black","fillColor":"white"}
}
}
